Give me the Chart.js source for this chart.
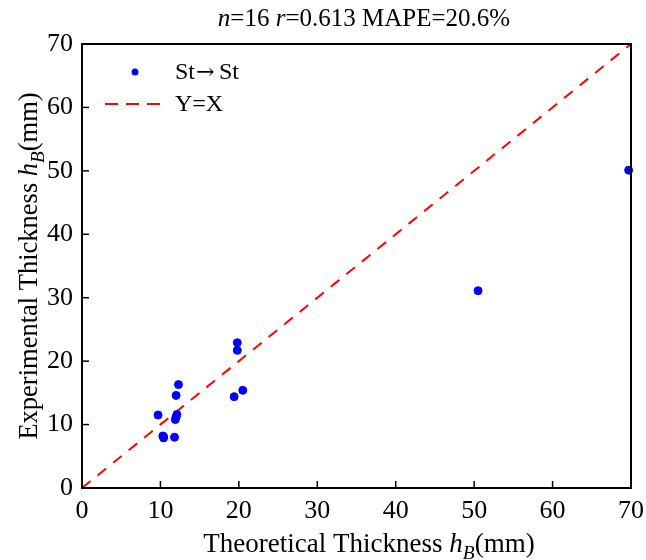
<!DOCTYPE html>
<html>
<head>
<meta charset="utf-8">
<script src="https://cdn.jsdelivr.net/npm/chart.js@4/dist/chart.umd.min.js"></script>
<style>
  html, body { margin: 0; padding: 0; background: #fff; }
  #wrap { width: 646px; height: 560px; }
</style>
</head>
<body>
<div id="wrap"><canvas id="chart" width="646" height="560"></canvas></div>
<script>
// Données
const theoretical = [12.3, 12.0, 9.7, 12.1, 11.9, 12.0, 10.3, 10.4, 11.8, 19.8, 19.8, 20.5, 19.4, 50.5, 69.7, 10.4];
const experimental = [16.3, 14.6, 11.5, 11.6, 10.8, 11.2, 8.2, 7.9, 8.0, 22.9, 21.7, 15.4, 14.4, 31.1, 50.1, 8.1];
const refLineX = [0, 70];
const refLineY = [0, 70];
const tickValues = [0, 10, 20, 30, 40, 50, 60, 70];
const seriesLabels = ['St\u2192St', 'Y=X'];

const FONT = '"Liberation Serif", "Times New Roman", serif';

// Dessin d'un texte avec italique / indice
function drawRich(ctx, parts, x, y, size) {
    const fontOf = p => (p.italic ? 'italic ' : '') + (p.sub ? size * 0.72 : size) + 'px ' + (p.family || FONT);
    let total = 0;
    parts.forEach(p => { ctx.font = fontOf(p); total += ctx.measureText(p.t).width; });
    let cx = x - total / 2;
    ctx.textAlign = 'left';
    ctx.textBaseline = 'alphabetic';
    ctx.fillStyle = '#000';
    parts.forEach(p => {
        ctx.font = fontOf(p);
        ctx.fillText(p.t, cx, y + (p.sub ? size * 0.25 : 0));
        cx += ctx.measureText(p.t).width;
    });
    return total;
}

const framePlugin = {
    id: 'frame',
    afterDatasetsDraw(chart) {
        const ctx = chart.ctx;
        const a = chart.chartArea;
        const xs = chart.scales.x, ys = chart.scales.y;
        ctx.save();
        ctx.strokeStyle = '#000';
        ctx.lineWidth = 2;
        ctx.strokeRect(a.left, a.top, a.right - a.left, a.bottom - a.top);
        // graduations vers l'intérieur
        ctx.lineWidth = 1.5;
        tickValues.forEach(v => {
            const px = xs.getPixelForValue(v);
            ctx.beginPath(); ctx.moveTo(px, a.bottom); ctx.lineTo(px, a.bottom - 7); ctx.stroke();
            const py = ys.getPixelForValue(v);
            ctx.beginPath(); ctx.moveTo(a.left, py); ctx.lineTo(a.left + 7, py); ctx.stroke();
        });

        // légende
        const ds0 = chart.data.datasets[0], ds1 = chart.data.datasets[1];
        ctx.fillStyle = ds0.backgroundColor;
        ctx.beginPath(); ctx.arc(135, 72, 3.5, 0, Math.PI * 2); ctx.fill();
        ctx.strokeStyle = ds1.borderColor;
        ctx.lineWidth = 2;
        ctx.setLineDash([13, 8]);
        ctx.beginPath(); ctx.moveTo(105, 104); ctx.lineTo(160, 104); ctx.stroke();
        ctx.setLineDash([]);
        ctx.fillStyle = '#000';
        ctx.font = '24px ' + FONT;
        ctx.textAlign = 'left';
        ctx.textBaseline = 'middle';
        ctx.fillText('St', 175, 73);
        ctx.font = '22px "DejaVu Serif", serif';
        ctx.fillText('\u2192', 196, 73);
        ctx.font = '24px ' + FONT;
        ctx.fillText('St', 219, 73);
        ctx.fillText(seriesLabels[1], 175, 105);

        // titre
        drawRich(ctx, [
            { t: 'n', italic: true }, { t: '=16 ' },
            { t: 'r', italic: true }, { t: '=0.613 MAPE=20.6%' }
        ], 364, 26, 25);

        // titres des axes
        drawRich(ctx, [
            { t: 'Theoretical Thickness ' }, { t: 'h', italic: true },
            { t: 'B', italic: true, sub: true }, { t: '(mm)' }
        ], 369, 552, 27);
        ctx.save();
        ctx.translate(37, 266);
        ctx.rotate(-Math.PI / 2);
        drawRich(ctx, [
            { t: 'Experimental Thickness ' }, { t: 'h', italic: true },
            { t: 'B', italic: true, sub: true }, { t: '(mm)' }
        ], 0, 0, 26.5);
        ctx.restore();
        ctx.restore();
    }
};

new Chart(document.getElementById('chart'), {
    type: 'scatter',
    data: {
        datasets: [{
            label: seriesLabels[0],
            data: theoretical.map((x, i) => ({ x: x, y: experimental[i] })),
            backgroundColor: '#0000ff',
            borderColor: '#0000ff',
            pointRadius: 4,
            pointHoverRadius: 4,
            clip: false,
            order: 1
        }, {
            label: seriesLabels[1],
            type: 'line',
            data: refLineX.map((x, i) => ({ x: x, y: refLineY[i] })),
            borderColor: '#ff0000',
            borderWidth: 2,
            borderDash: [11, 9],
            pointRadius: 0,
            fill: false,
            order: 2
        }]
    },
    options: {
        responsive: false,
        animation: false,
        layout: { padding: { top: 44, right: 15, left: 0, bottom: 0 } },
        plugins: {
            legend: { display: false },
            tooltip: { enabled: false },
            title: { display: false }
        },
        scales: {
            x: {
                type: 'linear',
                min: 0, max: 70,
                afterFit: s => { s.height = 72; s.paddingLeft = 0; s.paddingRight = 0; },
                afterBuildTicks: s => { s.ticks = tickValues.map(v => ({ value: v })); },
                grid: { display: false, drawTicks: false },
                border: { display: false },
                ticks: { padding: 8, color: '#000', font: { family: FONT, size: 26 } }
            },
            y: {
                type: 'linear',
                min: 0, max: 70,
                afterFit: s => { s.width = 82; s.paddingTop = 0; s.paddingBottom = 0; },
                afterBuildTicks: s => { s.ticks = tickValues.map(v => ({ value: v })); },
                grid: { display: false, drawTicks: false },
                border: { display: false },
                ticks: { padding: 9, color: '#000', font: { family: FONT, size: 26 } }
            }
        }
    },
    plugins: [framePlugin]
});
</script>
</body>
</html>
